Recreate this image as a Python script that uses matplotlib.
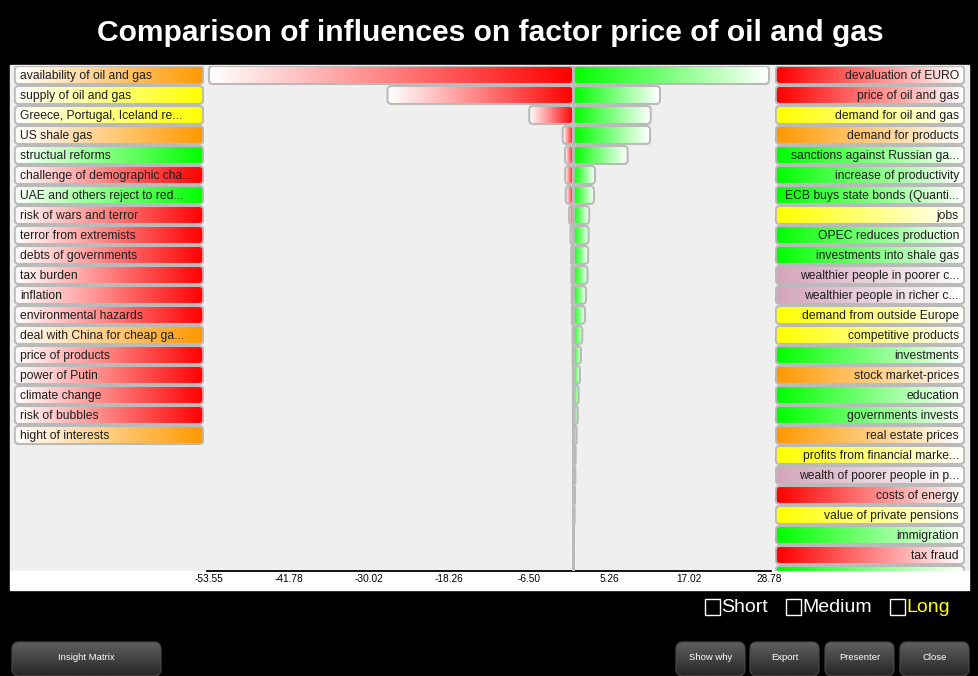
import numpy as np
import matplotlib
matplotlib.use('Agg')
import matplotlib.pyplot as plt
from matplotlib.patches import FancyBboxPatch, Rectangle
from matplotlib.colors import to_rgb

# data
left_labels = ['availability of oil and gas', 'supply of oil and gas', 'Greece, Portugal, Iceland re...',
               'US shale gas', 'structual reforms', 'challenge of demographic cha...',
               'UAE and others reject to red...', 'risk of wars and terror', 'terror from extremists',
               'debts of governments', 'tax burden', 'inflation', 'environmental hazards',
               'deal with China for cheap ga...', 'price of products', 'power of Putin',
               'climate change', 'risk of bubbles', 'hight of interests']
left_colors = ['orange', 'yellow', 'yellow', 'orange', 'green', 'red', 'green', 'red', 'red',
               'red', 'red', 'red', 'red', 'orange', 'red', 'red', 'red', 'red', 'orange']
right_labels = ['devaluation of EURO', 'price of oil and gas', 'demand for oil and gas',
                'demand for products', 'sanctions against Russian ga...', 'increase of productivity',
                'ECB buys state bonds (Quanti...', 'jobs', 'OPEC reduces production',
                'investments into shale gas', 'wealthier people in poorer c...',
                'wealthier people in richer c...', 'demand from outside Europe', 'competitive products',
                'investments', 'stock market-prices', 'education', 'governments invests',
                'real estate prices', 'profits from financial marke...', 'wealth of poorer people in p...',
                'costs of energy', 'value of private pensions', 'immigration', 'tax fraud', '']
right_colors = ['red', 'red', 'yellow', 'orange', 'green', 'green', 'green', 'yellow', 'green',
                'green', 'pink', 'pink', 'yellow', 'yellow', 'green', 'orange', 'green', 'green',
                'orange', 'yellow', 'pink', 'red', 'yellow', 'green', 'red', 'green']
neg_values = [-53.55, -27.3, -6.47, -1.56, -1.22, -1.2, -1.1, -0.6, -0.4, -0.3, -0.25, -0.22,
              -0.2, -0.1, -0.08, -0.06, -0.05, -0.04, -0.03]
pos_values = [28.78, 12.75, 11.4, 11.3, 8.0, 3.2, 3.05, 2.35, 2.26, 2.2, 2.1, 1.87, 1.72, 1.33,
              1.13, 0.98, 0.79, 0.65, 0.5, 0.35, 0.3, 0.25, 0.2, 0.1, 0.05, 0.03]
xticks = [-53.55, -41.78, -30.02, -18.26, -6.50, 5.26, 17.02, 28.78]
title = 'Comparison of influences on factor price of oil and gas'
horizons = ['Short', 'Medium', 'Long']
buttons_right = ['Show why', 'Export', 'Presenter', 'Close']

palette = {'red': '#ff0000', 'orange': '#ff9900', 'yellow': '#ffff00',
           'green': '#00ff00', 'pink': '#d4a4bb'}
BORDER = '#bababa'
W, H = 979, 676
ROW_TOP, ROW_BOTTOM = -0.45, 24.8   # row units, row i centred on i


def fig_rect(x0, y0, x1, y1):
    return [x0 / W, 1 - y1 / H, (x1 - x0) / W, (y1 - y0) / H]


def grad_box(ax, x0, x1, yc, h, c_left, c_right, r, aspect, ec=BORDER, lw=1.5, z=2):
    w = x1 - x0
    rr = min(r, w / 2)
    patch = FancyBboxPatch((x0, yc - h / 2), w, h,
                           boxstyle=f'round,pad=0,rounding_size={rr}',
                           mutation_aspect=aspect, fc='none', ec=ec, lw=lw, zorder=z + 1)
    ax.add_patch(patch)
    grad = np.linspace(to_rgb(c_left), to_rgb(c_right), 64)[None, :, :]
    im = ax.imshow(grad, extent=(x0, x1, yc + h / 2, yc - h / 2), aspect='auto',
                   interpolation='bilinear', zorder=z)
    im.set_clip_path(patch)
    return patch


plt.rcParams['font.family'] = ['Liberation Sans', 'DejaVu Sans']
fig = plt.figure(figsize=(W / 100, H / 100), dpi=100, facecolor='black')

# chrome layer in pixel coordinates
bg = fig.add_axes([0, 0, 1, 1])
bg.set_xlim(0, W)
bg.set_ylim(H, 0)
bg.axis('off')
bg.add_patch(Rectangle((10, 65), 959, 506, color='#efefef', zorder=0))
bg.add_patch(Rectangle((10, 571), 959, 19, color='white', zorder=0))
bg.text(490, 33, title, color='white', fontsize=21.6, fontweight='bold',
        ha='center', va='center')

box_x = [705, 786, 890]
for name, bx in zip(horizons, box_x):
    bg.add_patch(Rectangle((bx, 599), 15, 16, fill=False, ec='white', lw=1))
    bg.text(bx + 16, 608, name, color='yellow' if name == 'Long' else 'white',
            fontsize=14, ha='left', va='center')

btn_specs = [('Insight Matrix', 12, 161)] + list(zip(buttons_right, [676, 750, 825, 900],
                                                     [745, 819, 894, 969]))
for name, x0, x1 in btn_specs:
    p = FancyBboxPatch((x0, 642), x1 - x0, 34, boxstyle='round,pad=0,rounding_size=7',
                       fc='none', ec='#4a4a4a', lw=0.8, zorder=4)
    bg.add_patch(p)
    vgrad = np.linspace(to_rgb('#5f5f5f'), to_rgb('#262626'), 32)[:, None, :]
    im = bg.imshow(vgrad, extent=(x0, x1, 676, 642), aspect='auto',
                   interpolation='bilinear', zorder=3)
    im.set_clip_path(p)
    bg.text((x0 + x1) / 2, 658, name, color='white', fontsize=6.8, ha='center', va='center',
            zorder=5)
bg.set_xlim(0, W)
bg.set_ylim(H, 0)

# bars
xmin, xmax = xticks[0], xticks[-1]
pad = (xmax - xmin) * 2 / 560
ax = fig.add_axes(fig_rect(207, 66, 771, 571))
ax.set_facecolor('none')
px_x = (xmax - xmin) / 560
aspect = (1 / 20) / px_x
for i, v in enumerate(neg_values):
    grad_box(ax, v, 0, i, 0.9, 'white', palette['red'], 4 * px_x, aspect)
for i, v in enumerate(pos_values):
    grad_box(ax, 0, v, i, 0.9, palette['green'], 'white', 4 * px_x, aspect)
ax.axvline(0, color=BORDER, lw=2, zorder=6)
ax.set_xlim(xmin - pad, xmax + pad)
ax.set_ylim(ROW_BOTTOM, ROW_TOP)
ax.set_yticks([])
ax.set_xticks(xticks, labels=[f'{t:.2f}' for t in xticks])
ax.tick_params(axis='x', length=0, labelsize=7.3, pad=2, colors='black')
for s in ['top', 'left', 'right']:
    ax.spines[s].set_visible(False)
ax.spines['bottom'].set_linewidth(1.3)
ax.spines['bottom'].set_color('black')

# factor label columns
lab_aspect = (1 / 20) / (1 / 190)
axl = fig.add_axes(fig_rect(14, 66, 204, 571))
axr = fig.add_axes(fig_rect(775, 66, 965, 571))
for a, labels, colors, left_side in [(axl, left_labels, left_colors, True),
                                     (axr, right_labels, right_colors, False)]:
    a.set_facecolor('none')
    a.axis('off')
    for i, (lab, c) in enumerate(zip(labels, colors)):
        col = palette[c]
        if left_side:
            grad_box(a, 0.004, 0.996, i, 0.9, 'white', col, 0.022, lab_aspect)
            a.text(0.032, i + 0.05, lab, ha='left', va='center', fontsize=8.7,
                   color='#1e1e1e', clip_on=True, zorder=5)
        else:
            grad_box(a, 0.004, 0.996, i, 0.9, col, 'white', 0.022, lab_aspect)
            a.text(0.968, i + 0.05, lab, ha='right', va='center', fontsize=8.7,
                   color='#1e1e1e', clip_on=True, zorder=5)
    a.set_xlim(0, 1)
    a.set_ylim(ROW_BOTTOM, ROW_TOP)

fig.savefig('out.png', dpi=100, facecolor='black')
